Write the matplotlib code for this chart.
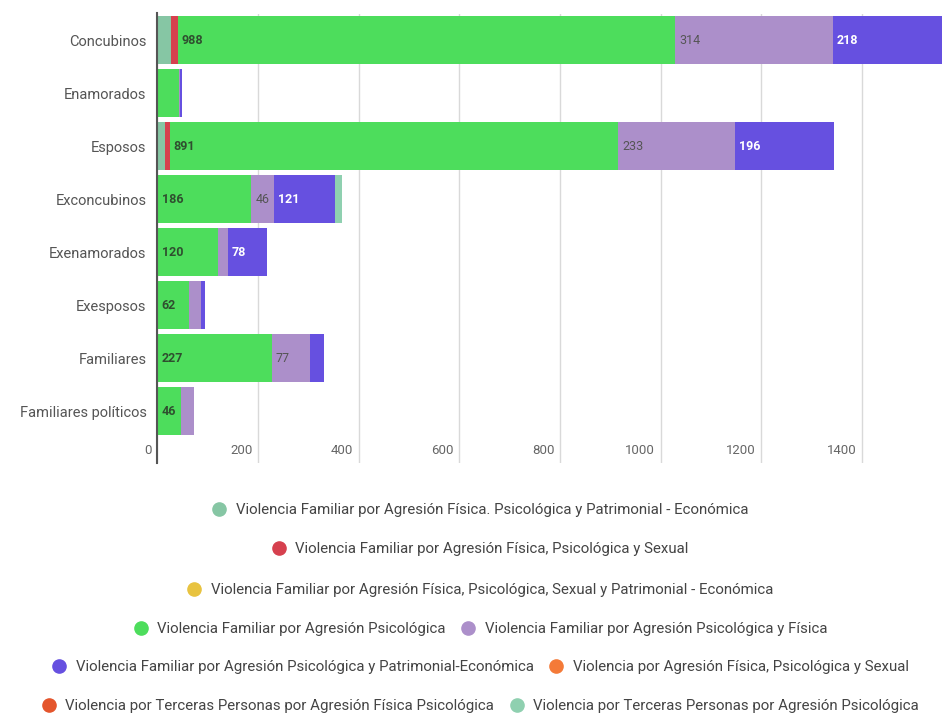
"""
Barras apiladas horizontales - tipos de violencia por vínculo
"""

import matplotlib.pyplot as plt
from matplotlib.lines import Line2D
import matplotlib.transforms as mtransforms
import numpy as np

plt.rcParams['font.family'] = ['Roboto', 'DejaVu Sans']

categorias = ['Concubinos', 'Enamorados', 'Esposos', 'Exconcubinos',
              'Exenamorados', 'Exesposos', 'Familiares', 'Familiares políticos']

series = [
    'Violencia Familiar por Agresión Física. Psicológica y Patrimonial - Económica',
    'Violencia Familiar por Agresión Física, Psicológica y Sexual',
    'Violencia Familiar por Agresión Física, Psicológica, Sexual y Patrimonial - Económica',
    'Violencia Familiar por Agresión Psicológica',
    'Violencia Familiar por Agresión Psicológica y Física',
    'Violencia Familiar por Agresión Psicológica y Patrimonial-Económica',
    'Violencia por Agresión Física, Psicológica y Sexual',
    'Violencia por Terceras Personas por Agresión Física Psicológica',
    'Violencia por Terceras Personas por Agresión Psicológica',
]

fis_psi_pat = [26, 0, 14, 0, 0, 0, 0, 0]
fis_psi_sex = [14, 0, 10, 0, 0, 0, 0, 0]
fis_psi_sex_pat = [0, 0, 0, 0, 0, 0, 0, 0]
psicologica = [988, 42, 891, 186, 120, 62, 227, 46]
psi_fisica = [314, 2, 233, 46, 20, 24, 77, 26]
psi_patrimonial = [218, 4, 196, 121, 78, 8, 26, 0]
otra_fis_psi_sex = [0, 0, 0, 0, 0, 0, 0, 0]
terceros_fis_psi = [0, 0, 0, 0, 0, 0, 0, 0]
terceros_psi = [0, 0, 0, 14, 0, 0, 0, 0]

valores = [fis_psi_pat, fis_psi_sex, fis_psi_sex_pat, psicologica, psi_fisica,
           psi_patrimonial, otra_fis_psi_sex, terceros_fis_psi, terceros_psi]

colores = ['#86c6a4', '#d6404e', '#e8c340', '#4ddd5c', '#ac8fca',
           '#6650e0', '#f47a38', '#e4552c', '#8fd0b0']

# series con etiqueta de valor: (color texto, peso)
etiquetas = {3: ('#2f4f2f', 'bold'), 4: ('#555555', 'normal'), 5: ('white', 'bold')}

fig = plt.figure(figsize=(9.45, 7.19), dpi=100)
ax = fig.add_axes([157.5 / 945, 1 - 463 / 719, 1 - 157.5 / 945, (463 - 13.5) / 719])

y = np.arange(len(categorias))
izq = np.zeros(len(categorias))
for i, (vals, col) in enumerate(zip(valores, colores)):
    vals = np.array(vals, dtype=float)
    ax.barh(y, vals, left=izq, height=0.9, color=col, zorder=3)
    if i in etiquetas:
        tcol, peso = etiquetas[i]
        for yy, v, l in zip(y, vals, izq):
            if v >= 45:
                ax.annotate(f'{int(v)}', xy=(l, yy), xytext=(3, 0),
                            textcoords='offset points', ha='left', va='center',
                            fontsize=9, color=tcol, fontweight=peso, zorder=4)
    izq += vals

ax.set_xlim(0, 1565)
ax.set_ylim(7.98, -0.5)
ax.set_yticks(y)
ax.set_yticklabels(categorias, fontsize=10.5, color='#555555')
ax.set_xticks(np.arange(0, 1401, 200))
ax.tick_params(axis='y', length=0, pad=8)
ax.tick_params(axis='x', length=0, pad=-14, labelsize=9.5, labelcolor='#666666')
offset = mtransforms.ScaledTranslation(-4 / 72, 0, fig.dpi_scale_trans)
for lab in ax.get_xticklabels():
    lab.set_ha('right')
    lab.set_transform(lab.get_transform() + offset)

ax.grid(axis='x', color='#d9d9d9', linewidth=1, zorder=0)
for s in ['top', 'right', 'bottom']:
    ax.spines[s].set_visible(False)
ax.spines['left'].set_color('#555555')
ax.spines['left'].set_linewidth(1.5)
ax.spines['left'].set_zorder(5)

# leyenda en filas centradas
filas = [[0], [1], [2], [3, 4], [5, 6], [7, 8]]
filas_y = [1 - 510 / 719, 1 - 549 / 719, 1 - 590 / 719, 1 - 629 / 719,
           1 - 667 / 719, 1 - 706 / 719]
for fila, fy in zip(filas, filas_y):
    handles = [Line2D([], [], marker='o', linestyle='none', markersize=9.5,
                      markerfacecolor=colores[k], markeredgecolor=colores[k])
               for k in fila]
    leg = fig.legend(handles, [series[k] for k in fila], loc='center',
                     bbox_to_anchor=(0.508, fy), ncol=len(fila), frameon=False,
                     fontsize=10.8, handletextpad=0.6, columnspacing=1.0,
                     borderpad=0, handlelength=1)
    for t in leg.get_texts():
        t.set_color('#444444')

plt.savefig('out.png', dpi=100, facecolor='white')
plt.close()
